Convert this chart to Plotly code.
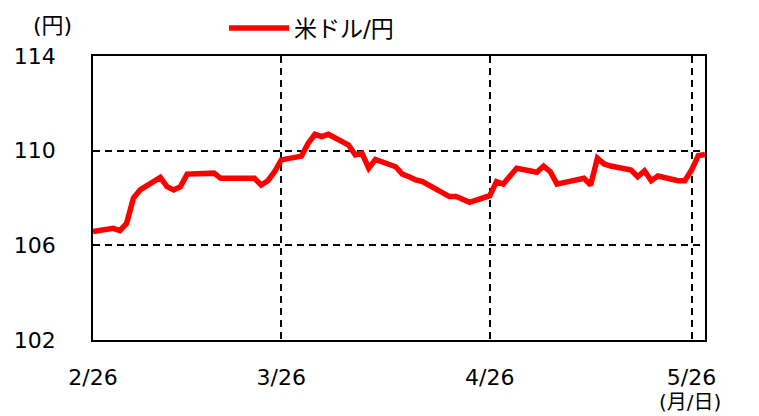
import plotly.graph_objects as go

dates = ["2021-02-26", "2021-03-01", "2021-03-02", "2021-03-03", "2021-03-04", "2021-03-05",
         "2021-03-08", "2021-03-09", "2021-03-10", "2021-03-11", "2021-03-12",
         "2021-03-15", "2021-03-16", "2021-03-17", "2021-03-18", "2021-03-19",
         "2021-03-22", "2021-03-23", "2021-03-24", "2021-03-25", "2021-03-26",
         "2021-03-29", "2021-03-30", "2021-03-31", "2021-04-01", "2021-04-02",
         "2021-04-05", "2021-04-06", "2021-04-07", "2021-04-08", "2021-04-09",
         "2021-04-12", "2021-04-13", "2021-04-14", "2021-04-15", "2021-04-16",
         "2021-04-19", "2021-04-20", "2021-04-21", "2021-04-22", "2021-04-23",
         "2021-04-26", "2021-04-27", "2021-04-28", "2021-04-29", "2021-04-30",
         "2021-05-03", "2021-05-04", "2021-05-05", "2021-05-06", "2021-05-07",
         "2021-05-10", "2021-05-11", "2021-05-12", "2021-05-13", "2021-05-14",
         "2021-05-17", "2021-05-18", "2021-05-19", "2021-05-20", "2021-05-21",
         "2021-05-24", "2021-05-25", "2021-05-26", "2021-05-27", "2021-05-28"]

usdjpy = [106.58, 106.72, 106.62, 106.93, 107.99, 108.34,
          108.87, 108.48, 108.34, 108.48, 109.01,
          109.07, 109.05, 108.83, 108.83, 108.83,
          108.83, 108.55, 108.73, 109.11, 109.61,
          109.77, 110.31, 110.69, 110.59, 110.69,
          110.24, 109.82, 109.89, 109.26, 109.63,
          109.32, 109.01, 108.90, 108.76, 108.69,
          108.17, 108.06, 108.06, 107.92, 107.82,
          108.10, 108.69, 108.59, 108.90, 109.26,
          109.09, 109.35, 109.11, 108.59, 108.65,
          108.83, 108.55, 109.68, 109.44, 109.35,
          109.18, 108.90, 109.15, 108.73, 108.93,
          108.73, 108.73, 109.18, 109.79, 109.84]

x_tickvals = ["2021-02-26", "2021-03-26", "2021-04-26", "2021-05-26"]
x_ticktext = ["2/26", "3/26", "4/26", "5/26"]
y_tickvals = [102, 106, 110, 114]

FONT = "DejaVu Sans, Noto Sans CJK JP, sans-serif"

# page body has an 8px margin: figure placed at (8, 8)
W, H = 751, 408
L, R, T, B = 85, 54, 48, 76
PW, PH = W - L - R, H - T - B


def px(x):  # page x -> paper x
    return (x - 8 - L) / PW


def py(y):  # page y -> paper y
    return (H - B + 8 - y) / PH


fig = go.Figure()
fig.add_trace(go.Scatter(
    x=dates, y=usdjpy, mode="lines", name="米ドル/円",
    line=dict(color="#FF0000", width=5.5),
))

fig.update_layout(
    width=W, height=H,
    margin=dict(l=L, r=R, t=T, b=B, autoexpand=False),
    paper_bgcolor="white", plot_bgcolor="white",
    font=dict(family=FONT, size=22, color="black"),
    showlegend=True,
    legend=dict(orientation="h", x=px(224), y=py(28), xanchor="left", yanchor="middle",
                font=dict(size=23), itemwidth=60, bgcolor="rgba(0,0,0,0)"),
    xaxis=dict(
        type="date", range=["2021-02-26", "2021-05-28"],
        tickvals=x_tickvals, ticktext=x_ticktext,
        showgrid=True, gridcolor="black", gridwidth=1.5, griddash="7px,5px",
        showline=True, linecolor="black", linewidth=1.5, mirror=True,
        ticks="", ticklabelstandoff=17, zeroline=False,
    ),
    yaxis=dict(
        range=[102, 114], tickvals=y_tickvals,
        showgrid=True, gridcolor="black", gridwidth=1.5, griddash="7px,5px",
        showline=True, linecolor="black", linewidth=1.5, mirror=True,
        ticks="", ticklabelstandoff=31, zeroline=False,
    ),
    annotations=[
        dict(text="(円)", xref="paper", yref="paper", x=px(52), y=py(26),
             xanchor="center", yanchor="middle", showarrow=False, font=dict(size=22)),
        dict(text="(月/日)", xref="paper", yref="paper", x=px(690), y=py(402),
             xanchor="center", yanchor="middle", showarrow=False, font=dict(size=20)),
    ],
)

fig.write_html("out.html")
